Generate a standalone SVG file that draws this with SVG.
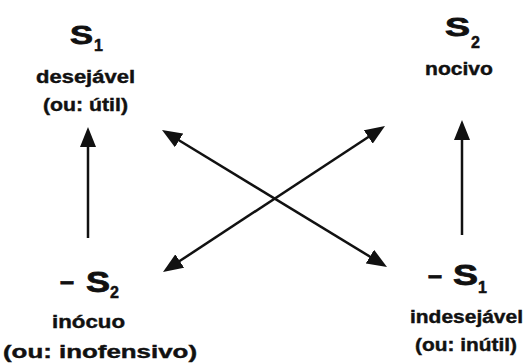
<svg xmlns="http://www.w3.org/2000/svg" width="524" height="364" viewBox="0 0 524 364">
<style>
  text { font-family: "Liberation Sans", Arial, sans-serif; font-weight: bold; fill: #111; stroke: #111; stroke-width: 0.4; }
  .big { font-size: 26px; stroke-width: 0.8; }
  .big2 { font-size: 29px; stroke-width: 0.8; }
  .sub { font-size: 16px; stroke-width: 0.5; }
  .lbl { font-size: 18px; }
  .c { text-anchor: middle; }
  .arrow { stroke: #111; stroke-width: 2.5; fill: none; }
</style>
<defs>
  <marker id="head" markerUnits="userSpaceOnUse" markerWidth="20" markerHeight="16" refX="6" refY="8" orient="auto-start-reverse">
    <path d="M0,0 L20,8 L0,16 Z" fill="#111"/>
  </marker>
</defs>
<rect width="524" height="364" fill="#fff"/>
<g id="s1">
  <text class="big" x="70" y="44" textLength="23" lengthAdjust="spacingAndGlyphs">S</text>
  <text class="sub" x="94" y="51">1</text>
  <text class="lbl c" x="85.5" y="83" textLength="99" lengthAdjust="spacingAndGlyphs">desejável</text>
  <text class="lbl c" x="85.5" y="111" textLength="85" lengthAdjust="spacingAndGlyphs">(ou: útil)</text>
</g>
<g id="s2">
  <text class="big" x="445" y="36" textLength="25" lengthAdjust="spacingAndGlyphs">S</text>
  <text class="sub" x="471" y="48">2</text>
  <text class="lbl c" x="459" y="75" textLength="68" lengthAdjust="spacingAndGlyphs">nocivo</text>
</g>
<g id="neg-s2">
  <text class="big" x="60" y="290" textLength="14" lengthAdjust="spacingAndGlyphs">–</text>
  <text class="big2" x="86" y="292" textLength="24" lengthAdjust="spacingAndGlyphs">S</text>
  <text class="sub" x="110" y="298">2</text>
  <text class="lbl c" x="88.5" y="328" textLength="73" lengthAdjust="spacingAndGlyphs">inócuo</text>
  <text class="lbl c" x="100" y="358" textLength="194" lengthAdjust="spacingAndGlyphs">(ou: inofensivo)</text>
</g>
<g id="neg-s1">
  <text class="big" x="428" y="284" textLength="14" lengthAdjust="spacingAndGlyphs">–</text>
  <text class="big2" x="453" y="285" textLength="25" lengthAdjust="spacingAndGlyphs">S</text>
  <text class="sub" x="478" y="293">1</text>
  <text class="lbl c" x="466.5" y="323" textLength="113" lengthAdjust="spacingAndGlyphs">indesejável</text>
  <text class="lbl c" x="466" y="351" textLength="102" lengthAdjust="spacingAndGlyphs">(ou: inútil)</text>
</g>
<g id="connectors">
  <line class="arrow" x1="88" y1="238" x2="88" y2="141" marker-end="url(#head)"/>
  <line class="arrow" x1="462" y1="235" x2="462" y2="134" marker-end="url(#head)"/>
  <line class="arrow" x1="173.96" y1="137.28" x2="375.04" y2="259.72" marker-start="url(#head)" marker-end="url(#head)"/>
  <line class="arrow" x1="174.70" y1="264.31" x2="373.30" y2="133.69" marker-start="url(#head)" marker-end="url(#head)"/>
</g>
</svg>
